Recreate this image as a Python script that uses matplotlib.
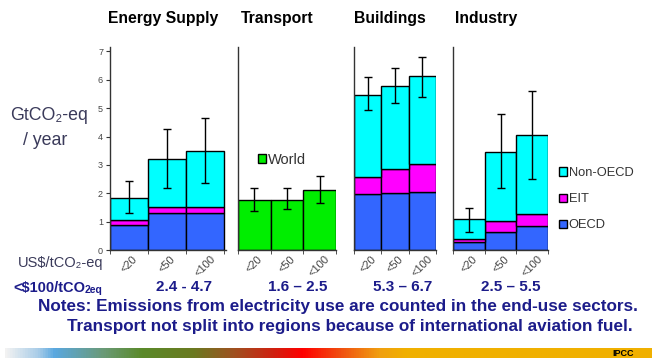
import numpy as np
import matplotlib
matplotlib.use("Agg")
import matplotlib.pyplot as plt
from matplotlib.colors import LinearSegmentedColormap
from matplotlib.patches import Patch

plt.rcParams['font.family'] = ['Liberation Sans', 'DejaVu Sans']

# ---------------- data ----------------
price_labels = ["<20", "<50", "<100"]
sectors = ["Energy Supply", "Transport", "Buildings", "Industry"]

energy_oecd = [0.88, 1.31, 1.31]
energy_eit = [0.17, 0.21, 0.21]
energy_non = [0.80, 1.68, 1.98]
energy_lo = [1.29, 2.17, 2.37]
energy_hi = [2.43, 4.27, 4.67]

transport_world = [1.78, 1.78, 2.10]
transport_lo = [1.36, 1.44, 1.64]
transport_hi = [2.17, 2.17, 2.60]

buildings_oecd = [1.96, 2.00, 2.04]
buildings_eit = [0.60, 0.84, 1.01]
buildings_non = [2.92, 2.96, 3.07]
buildings_lo = [4.93, 5.17, 5.38]
buildings_hi = [6.09, 6.41, 6.79]

industry_oecd = [0.27, 0.65, 0.85]
industry_eit = [0.11, 0.36, 0.43]
industry_non = [0.70, 2.46, 2.79]
industry_lo = [0.63, 2.17, 2.52]
industry_hi = [1.49, 4.80, 5.60]

ranges = ["2.4 - 4.7", "1.6 – 2.5", "5.3 – 6.7", "2.5 – 5.5"]
yticks = [0, 1, 2, 3, 4, 5, 6, 7]

# ---------------- style ----------------
C_NON = "#00FFFF"
C_EIT = "#FF00FF"
C_OECD = "#3366FF"
C_WORLD = "#00EE00"
NAVY = "#1c1c8a"
LBL = "#3a3a5a"

W, H = 652, 360
fig = plt.figure(figsize=(W / 100, H / 100), dpi=100)
fig.patch.set_facecolor("white")

Y0 = 250.0
PX_PER_UNIT = 28.36
YTOP = 47.0


def make_ax(x0, x1):
    ax = fig.add_axes([x0 / W, 1 - Y0 / H, (x1 - x0) / W, (Y0 - YTOP) / H])
    ax.set_ylim(0, (Y0 - YTOP) / PX_PER_UNIT)
    for s in ["top", "right"]:
        ax.spines[s].set_visible(False)
    for s in ["left", "bottom"]:
        ax.spines[s].set_color("#333333")
        ax.spines[s].set_linewidth(1.0)
    ax.set_xticks(range(3))
    ax.set_xticklabels(price_labels, rotation=45, ha="center", va="top",
                       fontsize=8, color="#444444")
    ax.tick_params(axis="x", which="major", length=0, pad=3)
    ax.set_xticks([-0.5, 0.5, 1.5, 2.5], minor=True)
    ax.tick_params(axis="x", which="minor", length=3, direction="out", color="#333333")
    ax.set_facecolor("none")
    return ax


def stacked(ax, oecd, eit, non, lo, hi):
    x = np.arange(len(oecd))
    oecd = np.array(oecd); eit = np.array(eit); non = np.array(non)
    kw = dict(width=1.0, edgecolor="black", linewidth=1.0)
    ax.bar(x, oecd, color=C_OECD, **kw)
    ax.bar(x, eit, bottom=oecd, color=C_EIT, **kw)
    ax.bar(x, non, bottom=oecd + eit, color=C_NON, **kw)
    lo = np.array(lo); hi = np.array(hi)
    ax.errorbar(x, (lo + hi) / 2, yerr=(hi - lo) / 2, fmt="none",
                ecolor="black", elinewidth=1.0, capsize=3, capthick=1.0)


# Energy supply
ax1 = make_ax(110, 226)
ax1.set_xlim(-0.5, 2.55)
stacked(ax1, energy_oecd, energy_eit, energy_non, energy_lo, energy_hi)
ax1.set_yticks(yticks)
ax1.set_yticklabels([str(v) for v in yticks], fontsize=6.5, color="#444444")
ax1.tick_params(axis="y", length=3, pad=2, color="#333333")

# Transport
ax2 = make_ax(238, 336)
ax2.set_xlim(-0.5, 2.5)
x = np.arange(3)
ax2.bar(x, transport_world, width=1.0, color=C_WORLD, edgecolor="black", linewidth=1.0)
tl = np.array(transport_lo); th = np.array(transport_hi)
ax2.errorbar(x, (tl + th) / 2, yerr=(th - tl) / 2, fmt="none",
             ecolor="black", elinewidth=1.0, capsize=3, capthick=1.0)
ax2.set_yticks([])

# Buildings
ax3 = make_ax(354, 436)
ax3.set_xlim(-0.5, 2.5)
stacked(ax3, buildings_oecd, buildings_eit, buildings_non, buildings_lo, buildings_hi)
ax3.set_yticks([])

# Industry
ax4 = make_ax(453, 548)
ax4.set_xlim(-0.5, 2.5)
stacked(ax4, industry_oecd, industry_eit, industry_non, industry_lo, industry_hi)
ax4.set_yticks([])

# Titles
title_x = [163, 277, 390, 486]
for name, tx in zip(sectors, title_x):
    fig.text(tx / W, 1 - 18 / H, name, ha="center", va="center",
             fontsize=11.3, fontweight="bold", color="black")

# Y label
fig.text(49 / W, 1 - 115 / H, "GtCO₂-eq", ha="center", va="center",
         fontsize=12.8, color=LBL)
fig.text(45 / W, 1 - 141 / H, "/ year", ha="center", va="center",
         fontsize=12.8, color=LBL)

# Legends
fig.legend(handles=[Patch(facecolor=C_WORLD, edgecolor="black", label="World")],
           loc="center left", bbox_to_anchor=(258 / W, 1 - 160 / H), frameon=False,
           fontsize=10.5, handlelength=0.55, handleheight=0.55, handletextpad=0.15,
           borderpad=0, borderaxespad=0, labelcolor="#333333")
fig.legend(handles=[Patch(facecolor=C_NON, edgecolor="black", label="Non-OECD"),
                    Patch(facecolor=C_EIT, edgecolor="black", label="EIT"),
                    Patch(facecolor=C_OECD, edgecolor="black", label="OECD")],
           loc="upper left", bbox_to_anchor=(559 / W, 1 - 167 / H), frameon=False,
           fontsize=9.3, handlelength=0.6, handleheight=0.6, handletextpad=0.15,
           labelspacing=1.1, borderpad=0, borderaxespad=0, labelcolor="#333333")

# x-axis caption
fig.text(18 / W, 1 - 263 / H, "US$/tCO₂-eq", ha="left", va="center",
         fontsize=10.5, color=LBL)

# <$100 row
fig.canvas.draw()
r = fig.canvas.get_renderer()
t1 = fig.text(13 / W, 1 - 288 / H, "<$100/tCO", ha="left", va="center",
              fontsize=10.5, fontweight="bold", color=NAVY)
bb = t1.get_window_extent(renderer=r)
fig.text(bb.x1 / W, 1 - 290 / H, "2eq", ha="left", va="center",
         fontsize=7.5, fontweight="bold", color=NAVY)
range_x = [184, 298, 403, 511]
for s, rx in zip(ranges, range_x):
    fig.text(rx / W, 1 - 287 / H, s, ha="center", va="center",
             fontsize=11, fontweight="bold", color=NAVY)

fig.text(338 / W, 1 - 306 / H,
         "Notes: Emissions from electricity use are counted in the end-use sectors.",
         ha="center", va="center", fontsize=12.3, fontweight="bold", color=NAVY)
fig.text(350 / W, 1 - 326 / H,
         "Transport not split into regions because of international aviation fuel.",
         ha="center", va="center", fontsize=12.3, fontweight="bold", color=NAVY)

# Gradient bar
stops = [(0.0, "#f2f2f2"), (0.05, "#a8cce8"), (0.075, "#5aa8e0"), (0.15, "#6a9a78"),
         (0.21, "#5a8a2a"), (0.29, "#6a7a20"), (0.355, "#a05020"), (0.415, "#d02010"),
         (0.46, "#ff0000"), (0.52, "#f05010"), (0.58, "#f0a010"), (0.62, "#f0b000"),
         (1.0, "#f0b000")]
cmap = LinearSegmentedColormap.from_list("ipcc", stops)
gax = fig.add_axes([5 / W, 1 - 358 / H, (W - 5) / W, 10 / H])
gax.imshow(np.linspace(0, 1, 512)[None, :], aspect="auto", cmap=cmap,
           extent=[0, 1, 0, 1])
gax.set_axis_off()
fig.text(623 / W, 1 - 353 / H, "IPCC", ha="center", va="center",
         fontsize=6.5, fontweight="bold", color="black")

fig.savefig("out.png", dpi=100, facecolor="white")
